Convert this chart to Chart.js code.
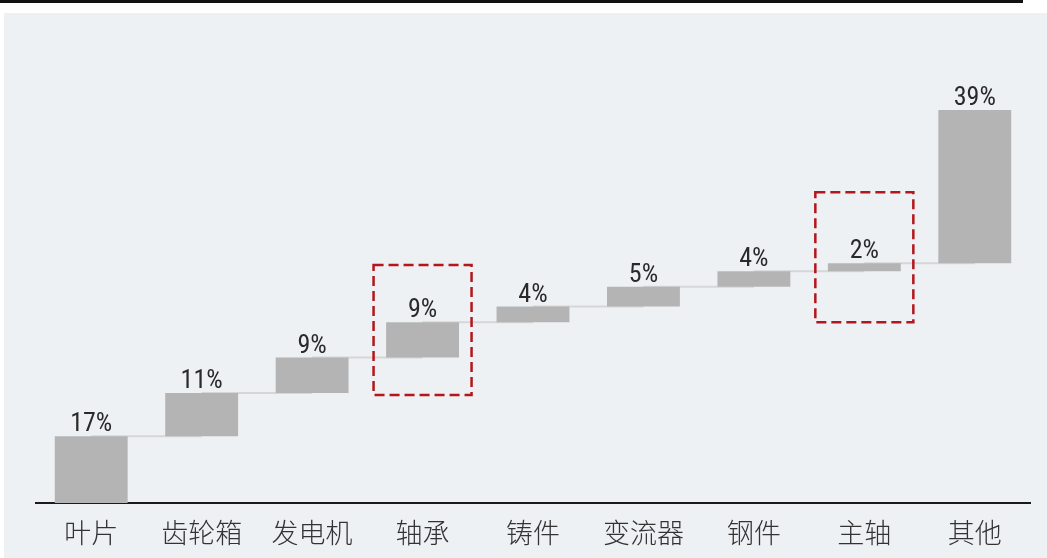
<!DOCTYPE html>
<html>
<head>
<meta charset="utf-8">
<script src="https://cdn.jsdelivr.net/npm/chart.js@4/dist/chart.umd.min.js"></script>
<style>
  html, body { margin: 0; padding: 0; background: #ffffff; }
  #wrap { position: relative; width: 1047px; height: 558px; overflow: hidden; }
  #topRule { position: absolute; left: 0; top: 0; width: 1023px; height: 3px; background: #111; }
  #panel { position: absolute; left: 4px; top: 13px; right: 0; bottom: 0; background: #eef1f4; }
  canvas { position: absolute; left: 0; top: 0; }
</style>
</head>
<body>
<div id="wrap">
  <div id="topRule"></div>
  <div id="panel"></div>
  <canvas id="c" width="1047" height="558"></canvas>
</div>
<script>
// Cost breakdown of a wind turbine, shown as a waterfall (shares in %)
const categories = ['叶片', '齿轮箱', '发电机', '轴承', '铸件', '变流器', '钢件', '主轴', '其他'];
const shares = [17, 11, 9, 9, 4, 5, 4, 2, 39];
const valueLabels = ['17%', '11%', '9%', '9%', '4%', '5%', '4%', '2%', '39%'];
const highlighted = ['轴承', '主轴'];

// floating bar ranges: each bar starts where the previous one ended
const ranges = [];
let running = 0;
shares.forEach(v => { ranges.push([running, running + v]); running += v; });

const BAR_COLOR = '#b4b4b4';

// thin connectors between consecutive bars
const connectorPlugin = {
  id: 'connectors',
  beforeDatasetsDraw(chart) {
    const { ctx } = chart;
    const meta = chart.getDatasetMeta(0);
    const y = chart.scales.y;
    ctx.save();
    ctx.strokeStyle = '#d6d6d6';
    ctx.lineWidth = 2;
    for (let i = 0; i < ranges.length - 1; i++) {
      const level = y.getPixelForValue(ranges[i][1]);
      ctx.beginPath();
      ctx.moveTo(meta.data[i].x, level);
      ctx.lineTo(meta.data[i + 1].x, level);
      ctx.stroke();
    }
    ctx.restore();
  }
};

// percentage labels above each bar and dashed frames around highlighted items
const annotatePlugin = {
  id: 'annotate',
  afterDatasetsDraw(chart) {
    const { ctx } = chart;
    const meta = chart.getDatasetMeta(0);
    ctx.save();
    ctx.fillStyle = '#2a2a2a';
    ctx.font = '26px "Liberation Sans Narrow", "Roboto Condensed", Roboto, sans-serif';
    ctx.textAlign = 'center';
    ctx.textBaseline = 'alphabetic';
    meta.data.forEach((bar, i) => {
      const top = Math.min(bar.y, bar.base);
      ctx.fillText(valueLabels[i], bar.x, top - 5);
    });

    ctx.strokeStyle = '#b3161b';
    ctx.lineWidth = 2.5;
    ctx.setLineDash([10, 5]);
    highlighted.forEach(name => {
      const i = categories.indexOf(name);
      const bar = meta.data[i];
      const mid = (bar.y + bar.base) / 2 - 10;
      const w = 98, h = 130;
      ctx.strokeRect(bar.x - w / 2, mid - h / 2, w, h);
    });
    ctx.restore();
  }
};

new Chart(document.getElementById('c'), {
  type: 'bar',
  data: {
    labels: categories,
    datasets: [{
      data: ranges,
      backgroundColor: BAR_COLOR,
      borderWidth: 0,
      categoryPercentage: 1,
      barPercentage: 0.66
    }]
  },
  options: {
    responsive: false,
    devicePixelRatio: 1,
    animation: false,
    layout: { padding: { left: 36, right: 17, top: 110, bottom: 0 } },
    plugins: { legend: { display: false }, tooltip: { enabled: false } },
    scales: {
      x: {
        grid: { display: false, drawTicks: false },
        border: { display: true, color: '#1a1a1a', width: 2 },
        ticks: {
          color: '#333',
          padding: 14,
          font: { size: 27, weight: 300, family: '"Noto Sans CJK SC", sans-serif' }
        },
        afterFit(scale) { scale.height = 55; }
      },
      y: { display: false, min: 0, max: 100 }
    }
  },
  plugins: [connectorPlugin, annotatePlugin]
});
</script>
</body>
</html>
